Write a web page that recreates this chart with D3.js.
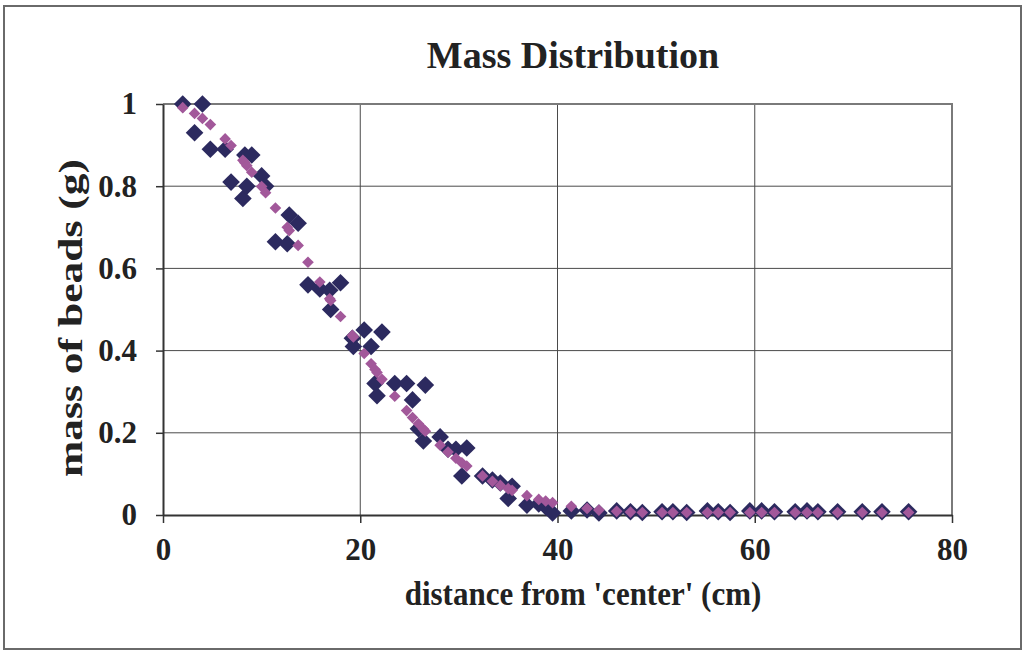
<!DOCTYPE html>
<html>
<head>
<meta charset="utf-8">
<script src="https://cdn.jsdelivr.net/npm/d3@7"></script>
<style>
  html, body { margin: 0; padding: 0; background: #fff; }
  svg { display: block; }
  text { font-family: "Liberation Serif", "Times New Roman", serif; font-weight: bold; fill: #222; }
</style>
</head>
<body>
<svg id="chart" width="1027" height="654"></svg>
<script>
// Distance of each bead sample from the centre (cm)
const distance = [2.0, 3.2, 4.0, 4.8, 6.3, 6.9, 8.1, 8.3, 8.5, 9.0, 10.0, 10.4, 11.4, 12.6, 12.8, 13.7,
  14.7, 15.9, 16.9, 17.0, 18.0, 19.2, 19.3, 20.4, 21.1, 21.5, 21.7, 22.2, 23.5, 24.7, 25.3, 25.9,
  26.4, 26.6, 28.1, 28.9, 29.7, 30.3, 30.8, 32.4, 33.4, 34.2, 35.0, 35.4, 36.9, 38.1, 38.8, 39.5,
  41.4, 43.0, 44.2, 46.0, 47.4, 48.6, 50.6, 51.7, 53.1, 55.2, 56.3, 57.5, 59.5, 60.7, 62.0, 64.1,
  65.3, 66.4, 68.4, 70.9, 72.9, 75.6];

// Measured mass of beads (g)
const measuredMass = [1.00, 0.93, 1.00, 0.89, 0.89, 0.81, 0.77, 0.876, 0.80, 0.876, 0.825, 0.80, 0.665, 0.66, 0.73, 0.71,
  0.56, 0.55, 0.547, 0.50, 0.565, 0.43, 0.41, 0.45, 0.41, 0.32, 0.29, 0.445, 0.32, 0.32, 0.28, 0.21,
  0.18, 0.316, 0.19, 0.16, 0.16, 0.095, 0.163, 0.095, 0.085, 0.078, 0.04, 0.07, 0.024, 0.027, 0.02, 0.005,
  0.01, 0.012, 0.005, 0.01, 0.008, 0.006, 0.008, 0.008, 0.006, 0.01, 0.008, 0.006, 0.01, 0.01, 0.008, 0.008,
  0.01, 0.008, 0.008, 0.008, 0.008, 0.008];

// Fitted curve evaluated at the same distances
const fittedMass = [0.991, 0.977, 0.965, 0.950, 0.915, 0.899, 0.863, 0.857, 0.850, 0.834, 0.799, 0.784, 0.747, 0.700, 0.692, 0.656,
  0.615, 0.567, 0.526, 0.522, 0.483, 0.437, 0.433, 0.393, 0.368, 0.354, 0.347, 0.330, 0.289, 0.254, 0.237, 0.222,
  0.209, 0.204, 0.170, 0.153, 0.138, 0.127, 0.119, 0.095, 0.082, 0.072, 0.064, 0.060, 0.047, 0.038, 0.034, 0.030,
  0.021, 0.016, 0.012, 0.009, 0.007, 0.006, 0.006, 0.006, 0.006, 0.006, 0.006, 0.006, 0.006, 0.006, 0.006, 0.006,
  0.006, 0.006, 0.006, 0.006, 0.006, 0.006];

const xTicks = [0, 20, 40, 60, 80];
const yTicks = [0, 0.2, 0.4, 0.6, 0.8, 1];
const yTickLabels = ["0", "0.2", "0.4", "0.6", "0.8", "1"];

const svg = d3.select("#chart");

// outer chart frame
svg.append("rect")
  .attr("x", 4).attr("y", 6).attr("width", 1017).attr("height", 643)
  .attr("fill", "none").attr("stroke", "#6a6a6a").attr("stroke-width", 2);

const x = d3.scaleLinear().domain([0, 80]).range([163, 952]);
const y = d3.scaleLinear().domain([0, 1]).range([515, 104]);

// grid lines
svg.append("g").selectAll("line.v").data(xTicks.slice(1, -1)).join("line")
  .attr("x1", d => x(d)).attr("x2", d => x(d))
  .attr("y1", y(0)).attr("y2", y(1))
  .attr("stroke", "#4a4a4a").attr("stroke-width", 1);
svg.append("g").selectAll("line.h").data(yTicks.slice(1, -1)).join("line")
  .attr("x1", x(0)).attr("x2", x(80))
  .attr("y1", d => y(d)).attr("y2", d => y(d))
  .attr("stroke", "#4a4a4a").attr("stroke-width", 1);

// top and right plot border
svg.append("path")
  .attr("d", `M${x(0)},${y(1)}H${x(80)}V${y(0)}`)
  .attr("fill", "none").attr("stroke", "#7a7a7a").attr("stroke-width", 2);

// axes
const xAxis = d3.axisBottom(x).tickValues(xTicks).tickSize(8).tickSizeOuter(0).tickFormat(d3.format("d"));
const yAxis = d3.axisLeft(y).tickValues(yTicks).tickSize(7).tickSizeOuter(0)
  .tickFormat((d, i) => yTickLabels[i]);

const gx = svg.append("g").attr("transform", `translate(0,${y(0)})`).call(xAxis);
const gy = svg.append("g").attr("transform", `translate(${x(0)},0)`).call(yAxis);

[gx, gy].forEach(g => {
  g.select(".domain").attr("stroke", "#333").attr("stroke-width", 2);
  g.selectAll(".tick line").attr("stroke", "#333").attr("stroke-width", 1.5);
  g.selectAll(".tick text")
    .attr("font-family", "Liberation Serif, Times New Roman, serif")
    .attr("font-weight", "bold").attr("font-size", 31).attr("fill", "#222");
});
gx.selectAll(".tick text").attr("dy", "0.9em").attr("y", 17);
gy.selectAll(".tick text").attr("x", -26);

// data markers
const points = distance.map((d, i) => ({ d, m: measuredMass[i], f: fittedMass[i] }));
const bigDiamond = d3.symbol().type(d3.symbolSquare).size(155);
const smallDiamond = d3.symbol().type(d3.symbolSquare).size(68);

svg.append("g").selectAll("path").data(points).join("path")
  .attr("d", bigDiamond)
  .attr("transform", p => `translate(${x(p.d)},${y(p.m)}) rotate(45)`)
  .attr("fill", "#2c2a5f");

svg.append("g").selectAll("path").data(points).join("path")
  .attr("d", smallDiamond)
  .attr("transform", p => `translate(${x(p.d)},${y(p.f)}) rotate(45)`)
  .attr("fill", "#a2589a");

// titles
svg.append("text")
  .attr("x", 573).attr("y", 68).attr("text-anchor", "middle")
  .attr("font-size", 38).text("Mass Distribution");

svg.append("text")
  .attr("transform", "translate(583,605) scale(1,1.12)")
  .attr("text-anchor", "middle")
  .attr("font-size", 31).text("distance from 'center' (cm)");

svg.append("text")
  .attr("transform", "translate(82,318) rotate(-90) scale(1.32,1)")
  .attr("text-anchor", "middle")
  .attr("font-size", 33).text("mass of beads (g)");
</script>
</body>
</html>
